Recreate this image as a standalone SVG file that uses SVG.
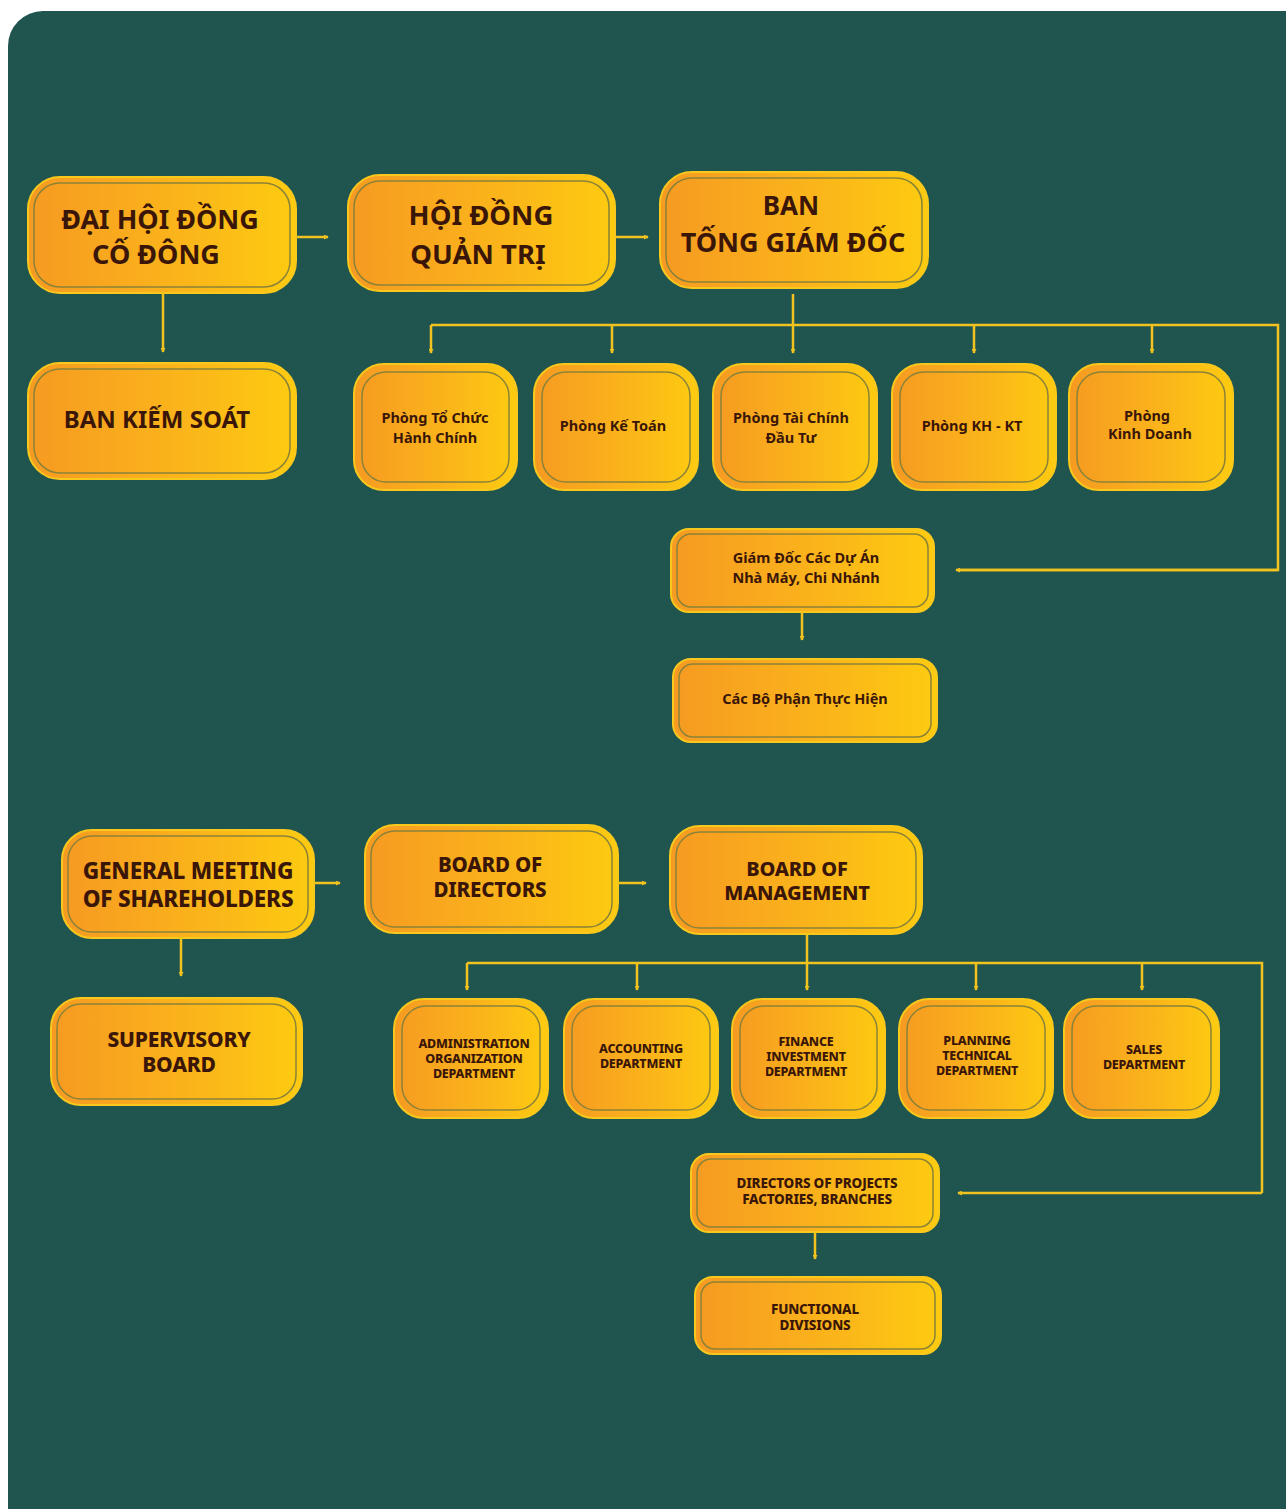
<svg xmlns="http://www.w3.org/2000/svg" width="1286" height="1509" viewBox="0 0 1286 1509">
<defs>
<linearGradient id="g" x1="0" y1="0" x2="1" y2="0">
<stop offset="0" stop-color="#f69a22"/>
<stop offset="0.6" stop-color="#fbb61a"/>
<stop offset="1" stop-color="#fdcb10"/>
</linearGradient>
<marker id="ah" viewBox="0 0 6 6" refX="5" refY="3" markerWidth="5" markerHeight="5" orient="auto" markerUnits="userSpaceOnUse">
<path d="M0,0 L6,3 L0,6 z" fill="#f2c21f"/>
</marker>
<style>
.box{fill:url(#g);stroke:#f9c81c;stroke-width:2}
.in{fill:none;stroke:#8b8238;stroke-width:1.5}
.t{font-family:"Noto Sans","Liberation Sans",sans-serif;font-weight:700;fill:#3a1608;text-anchor:middle}
.e{font-family:"Noto Sans","Liberation Sans",sans-serif;font-weight:800;fill:#3a1608;text-anchor:middle;letter-spacing:-0.2px}
.c{fill:none;stroke:#f2c21f;stroke-width:2.5}
.a{marker-end:url(#ah)}
</style>
</defs>
<rect width="1286" height="1509" fill="#ffffff"/>
<path d="M8,46 A35,35 0 0 1 43,11 L1286,11 L1286,1509 L8,1509 Z" fill="#20554f"/>

<g id="connectors">
<path class="c a" d="M296,237 H328"/>
<path class="c a" d="M615,237 H648"/>
<path class="c a" d="M163,292 V352"/>
<path class="c" d="M793,294 V325"/>
<path class="c" d="M431,325 H1278 V570 H958"/>
<path class="c a" d="M1278,570 H956"/>
<path class="c a" d="M431,325 V353"/>
<path class="c a" d="M612,325 V353"/>
<path class="c a" d="M793,325 V353"/>
<path class="c a" d="M974,325 V353"/>
<path class="c a" d="M1152,325 V353"/>
<path class="c a" d="M802,612 V640"/>

<path class="c a" d="M314,883 H340"/>
<path class="c a" d="M618,883 H646"/>
<path class="c a" d="M181,938 V976"/>
<path class="c" d="M807,934 V963"/>
<path class="c" d="M467,963 H1262 V1193"/>
<path class="c a" d="M1262,1193 H958"/>
<path class="c a" d="M467,963 V990"/>
<path class="c a" d="M637,963 V990"/>
<path class="c a" d="M807,963 V990"/>
<path class="c a" d="M976,963 V990"/>
<path class="c a" d="M1142,963 V990"/>
<path class="c a" d="M815,1232 V1259"/>
</g>

<g id="n-daihoi">
<rect class="box" x="28" y="177" width="268" height="116" rx="32"/>
<rect class="in" x="34" y="183" width="256" height="104" rx="26"/>
<text class="t" x="160" y="229" font-size="27">ĐẠI HỘI ĐỒNG</text>
<text class="t" x="156" y="264" font-size="27">CỐ ĐÔNG</text>
</g>
<g id="n-hdqt">
<rect class="box" x="348" y="175" width="267" height="116" rx="32"/>
<rect class="in" x="354" y="181" width="255" height="104" rx="26"/>
<text class="t" x="481" y="225" font-size="27.5">HỘI ĐỒNG</text>
<text class="t" x="478" y="264" font-size="27.5">QUẢN TRỊ</text>
</g>
<g id="n-btgd">
<rect class="box" x="660" y="172" width="268" height="116" rx="32"/>
<rect class="in" x="666" y="178" width="256" height="104" rx="26"/>
<text class="t" x="791" y="215" font-size="26">BAN</text>
<text class="t" x="793" y="252" font-size="27">TỐNG GIÁM ĐỐC</text>
</g>
<g id="n-bks">
<rect class="box" x="28" y="363" width="268" height="116" rx="32"/>
<rect class="in" x="34" y="369" width="256" height="104" rx="26"/>
<text class="t" x="157" y="428" font-size="24">BAN KIẾM SOÁT</text>
</g>

<g id="n-p1">
<rect class="box" x="354" y="364" width="163" height="126" rx="30"/>
<rect class="in" x="362" y="372" width="147" height="110" rx="24"/>
<text class="t" x="435" y="423" font-size="14.5">Phòng Tổ Chức</text>
<text class="t" x="435" y="443" font-size="14.5">Hành Chính</text>
</g>
<g id="n-p2">
<rect class="box" x="534" y="364" width="164" height="126" rx="30"/>
<rect class="in" x="542" y="372" width="148" height="110" rx="24"/>
<text class="t" x="613" y="431" font-size="14.5">Phòng Kế Toán</text>
</g>
<g id="n-p3">
<rect class="box" x="713" y="364" width="164" height="126" rx="30"/>
<rect class="in" x="721" y="372" width="148" height="110" rx="24"/>
<text class="t" x="791" y="423" font-size="14.5">Phòng Tài Chính</text>
<text class="t" x="791" y="443" font-size="14.5">Đầu Tư</text>
</g>
<g id="n-p4">
<rect class="box" x="892" y="364" width="164" height="126" rx="30"/>
<rect class="in" x="900" y="372" width="148" height="110" rx="24"/>
<text class="t" x="972" y="431" font-size="14.5">Phòng KH - KT</text>
</g>
<g id="n-p5">
<rect class="box" x="1069" y="364" width="164" height="126" rx="30"/>
<rect class="in" x="1077" y="372" width="148" height="110" rx="24"/>
<text class="t" x="1147" y="421" font-size="14.5">Phòng</text>
<text class="t" x="1150" y="439" font-size="14.5">Kinh Doanh</text>
</g>

<g id="n-gddn">
<rect class="box" x="671" y="529" width="263" height="83" rx="18"/>
<rect class="in" x="677" y="534" width="251" height="73" rx="14"/>
<text class="t" x="806" y="563" font-size="14.5">Giám Đốc Các Dự Án</text>
<text class="t" x="806" y="583" font-size="14.5">Nhà Máy, Chi Nhánh</text>
</g>
<g id="n-cbpth">
<rect class="box" x="673" y="659" width="264" height="83" rx="18"/>
<rect class="in" x="679" y="664" width="252" height="73" rx="14"/>
<text class="t" x="805" y="704" font-size="14.5">Các Bộ Phận Thực Hiện</text>
</g>

<g id="n-gms">
<rect class="box" x="62" y="830" width="252" height="108" rx="30"/>
<rect class="in" x="68" y="836" width="240" height="96" rx="24"/>
<text class="e" x="188" y="879" font-size="22.5" letter-spacing="-0.5">GENERAL MEETING</text>
<text class="e" x="188" y="907" font-size="22.5" letter-spacing="-0.5">OF SHAREHOLDERS</text>
</g>
<g id="n-bod">
<rect class="box" x="365" y="825" width="253" height="108" rx="30"/>
<rect class="in" x="371" y="831" width="241" height="96" rx="24"/>
<text class="e" x="490" y="872" font-size="20.5" letter-spacing="0.8">BOARD OF</text>
<text class="e" x="490" y="897" font-size="20.5" letter-spacing="0.8">DIRECTORS</text>
</g>
<g id="n-bom">
<rect class="box" x="670" y="826" width="252" height="108" rx="30"/>
<rect class="in" x="676" y="832" width="240" height="96" rx="24"/>
<text class="e" x="797" y="876" font-size="20" letter-spacing="0.3">BOARD OF</text>
<text class="e" x="797" y="900" font-size="20" letter-spacing="0.3">MANAGEMENT</text>
</g>
<g id="n-sb">
<rect class="box" x="51" y="998" width="251" height="107" rx="30"/>
<rect class="in" x="57" y="1004" width="239" height="95" rx="24"/>
<text class="e" x="179" y="1047" font-size="21" letter-spacing="0.3">SUPERVISORY</text>
<text class="e" x="179" y="1072" font-size="21" letter-spacing="0.3">BOARD</text>
</g>

<g id="n-d1">
<rect class="box" x="394" y="999" width="154" height="119" rx="30"/>
<rect class="in" x="402" y="1006" width="138" height="104" rx="24"/>
<text class="e" x="474" y="1048" font-size="12.5">ADMINISTRATION</text>
<text class="e" x="474" y="1063" font-size="12.5">ORGANIZATION</text>
<text class="e" x="474" y="1078" font-size="12.5">DEPARTMENT</text>
</g>
<g id="n-d2">
<rect class="box" x="564" y="999" width="154" height="119" rx="30"/>
<rect class="in" x="572" y="1006" width="138" height="104" rx="24"/>
<text class="e" x="641" y="1053" font-size="12.5">ACCOUNTING</text>
<text class="e" x="641" y="1068" font-size="12.5">DEPARTMENT</text>
</g>
<g id="n-d3">
<rect class="box" x="732" y="999" width="153" height="119" rx="30"/>
<rect class="in" x="740" y="1006" width="137" height="104" rx="24"/>
<text class="e" x="806" y="1046" font-size="12.5">FINANCE</text>
<text class="e" x="806" y="1061" font-size="12.5">INVESTMENT</text>
<text class="e" x="806" y="1076" font-size="12.5">DEPARTMENT</text>
</g>
<g id="n-d4">
<rect class="box" x="899" y="999" width="154" height="119" rx="30"/>
<rect class="in" x="907" y="1006" width="138" height="104" rx="24"/>
<text class="e" x="977" y="1045" font-size="12.5">PLANNING</text>
<text class="e" x="977" y="1060" font-size="12.5">TECHNICAL</text>
<text class="e" x="977" y="1075" font-size="12.5">DEPARTMENT</text>
</g>
<g id="n-d5">
<rect class="box" x="1064" y="999" width="155" height="119" rx="30"/>
<rect class="in" x="1072" y="1006" width="139" height="104" rx="24"/>
<text class="e" x="1144" y="1054" font-size="12.5">SALES</text>
<text class="e" x="1144" y="1069" font-size="12.5">DEPARTMENT</text>
</g>

<g id="n-dop">
<rect class="box" x="691" y="1154" width="248" height="78" rx="18"/>
<rect class="in" x="697" y="1159" width="236" height="68" rx="14"/>
<text class="e" x="817" y="1188" font-size="13.5">DIRECTORS OF PROJECTS</text>
<text class="e" x="817" y="1204" font-size="13.5">FACTORIES, BRANCHES</text>
</g>
<g id="n-fd">
<rect class="box" x="695" y="1277" width="246" height="77" rx="18"/>
<rect class="in" x="701" y="1282" width="234" height="67" rx="14"/>
<text class="e" x="815" y="1314" font-size="13.5">FUNCTIONAL</text>
<text class="e" x="815" y="1330" font-size="13.5">DIVISIONS</text>
</g>
</svg>
